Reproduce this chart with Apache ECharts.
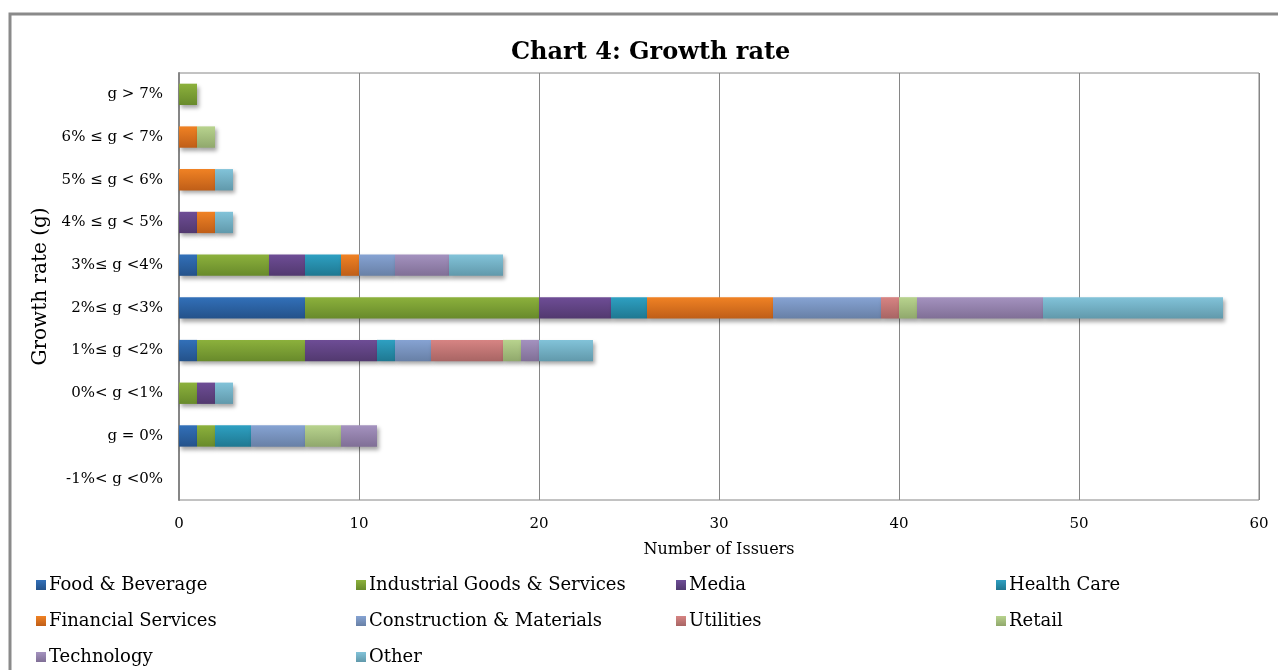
<!DOCTYPE html>
<html>
<head>
<meta charset="utf-8">
<script src="https://cdn.jsdelivr.net/npm/echarts@6/dist/echarts.min.js"></script>
<style>html,body{margin:0;padding:0;background:#fff;}#c{width:1278px;height:670px;}</style>
</head>
<body>
<div id="c"></div>
<script>
const categories = ["-1%< g <0%", "g = 0%", "0%< g <1%", "1%≤ g <2%", "2%≤ g <3%", "3%≤ g <4%", "4% ≤ g < 5%", "5% ≤ g < 6%", "6% ≤ g < 7%", "g > 7%"];
const seriesNames = ["Food & Beverage", "Industrial Goods & Services", "Media", "Health Care", "Financial Services", "Construction & Materials", "Utilities", "Retail", "Technology", "Other"];
const foodBeverage   = [0, 1, 0, 1, 7, 1, 0, 0, 0, 0];
const industrial     = [0, 1, 1, 6, 13, 4, 0, 0, 0, 1];
const media          = [0, 0, 1, 4, 4, 2, 1, 0, 0, 0];
const healthCare     = [0, 2, 0, 1, 2, 2, 0, 0, 0, 0];
const financial      = [0, 0, 0, 0, 7, 1, 1, 2, 1, 0];
const construction   = [0, 3, 0, 2, 6, 2, 0, 0, 0, 0];
const utilities      = [0, 0, 0, 4, 1, 0, 0, 0, 0, 0];
const retail         = [0, 2, 0, 1, 1, 0, 0, 0, 1, 0];
const technology     = [0, 2, 0, 1, 7, 3, 0, 0, 0, 0];
const other          = [0, 0, 1, 3, 10, 3, 1, 1, 0, 0];
const xTicks = [0, 10, 20, 30, 40, 50, 60];

const seriesData = [foodBeverage, industrial, media, healthCare, financial, construction, utilities, retail, technology, other];
const colorPairs = [
  ["#3270b9", "#24528a"],
  ["#8cb13c", "#688a2b"],
  ["#6e4d96", "#52396f"],
  ["#2ea0c2", "#1f7891"],
  ["#f08224", "#bf5e18"],
  ["#86a3d3", "#6880a6"],
  ["#d78483", "#a86564"],
  ["#b8d38e", "#90a86c"],
  ["#a492bf", "#806f96"],
  ["#82c3d9", "#6199ab"]
];
const FONT = "DejaVu Serif";

function grad(c) {
  return new echarts.graphic.LinearGradient(0, 0, 0, 1, [{offset: 0, color: c[0]}, {offset: 1, color: c[1]}]);
}

const series = seriesNames.map((n, i) => ({
  name: n,
  type: 'bar',
  stack: 'total',
  barWidth: '50%',
  data: seriesData[i],
  itemStyle: {
    color: grad(colorPairs[i]),
    shadowColor: 'rgba(0,0,0,0.35)',
    shadowBlur: 4,
    shadowOffsetX: 2,
    shadowOffsetY: 3
  },
  emphasis: {disabled: true}
}));

const legendCols = [
  {x: 36, names: ["Food & Beverage", "Financial Services", "Technology"]},
  {x: 356, names: ["Industrial Goods & Services", "Construction & Materials", "Other"]},
  {x: 676, names: ["Media", "Utilities"]},
  {x: 996, names: ["Health Care", "Retail"]}
];

const chart = echarts.init(document.getElementById('c'));
chart.setOption({
  animation: false,
  backgroundColor: '#fff',
  title: {
    text: 'Chart 4: Growth rate',
    left: 506,
    top: 36,
    textStyle: {fontFamily: FONT, fontSize: 24, fontWeight: 'bold', color: '#000'}
  },
  graphic: [{
    type: 'rect',
    shape: {x: 10, y: 14, width: 1300, height: 700},
    style: {fill: 'none', stroke: '#8a8a8a', lineWidth: 3},
    silent: true
  }],
  legend: legendCols.map(col => ({
    data: col.names,
    orient: 'vertical',
    left: col.x,
    top: 576,
    padding: 0,
    itemWidth: 10,
    itemHeight: 10,
    itemGap: 18,
    icon: 'rect',
    selectedMode: false,
    textStyle: {fontFamily: FONT, fontSize: 18, color: '#000', padding: [0, 0, 0, -2]}
  })),
  grid: {
    left: 179, right: 19, top: 73, bottom: 170,
    show: true, borderColor: '#868686', borderWidth: 1, backgroundColor: 'transparent'
  },
  xAxis: {
    type: 'value',
    min: 0, max: 60, interval: 10,
    name: 'Number of Issuers',
    nameLocation: 'middle',
    nameGap: 42,
    nameTextStyle: {fontFamily: FONT, fontSize: 16, color: '#000'},
    axisLine: {show: false},
    axisTick: {show: false},
    axisLabel: {fontFamily: FONT, fontSize: 15, color: '#000', margin: 17,
      formatter: v => xTicks.includes(v) ? String(v) : ''},
    splitLine: {show: true, lineStyle: {color: '#868686', width: 1}}
  },
  yAxis: {
    type: 'category',
    data: categories,
    name: 'Growth rate (g)',
    nameLocation: 'middle',
    nameGap: 128,
    nameRotate: 90,
    nameTextStyle: {fontFamily: FONT, fontSize: 20, color: '#000'},
    axisLine: {show: true, lineStyle: {color: '#868686', width: 2}},
    axisTick: {show: false},
    axisLabel: {fontFamily: FONT, fontSize: 15, color: '#000', margin: 16},
    splitLine: {show: false}
  },
  series: series
});
</script>
</body>
</html>
